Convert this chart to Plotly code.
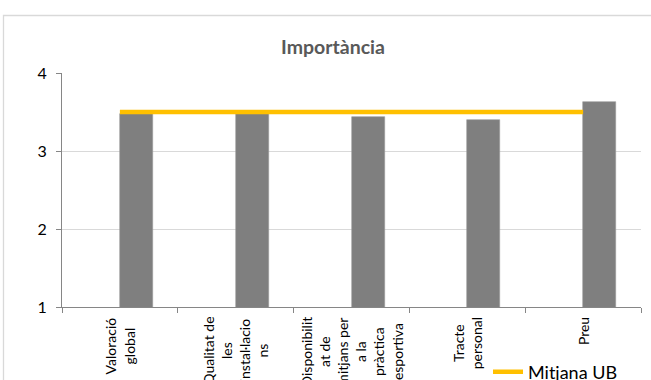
import plotly.graph_objects as go

categories = ["Valoració global", "Qualitat de les instal·lacions",
              "Disponibilitat de mitjans per a la pràctica esportiva",
              "Tracte personal", "Preu"]
tick_labels = ["Valoració<br>global", "Qualitat de<br>les<br>instal·lacio<br>ns",
               "Disponibilit<br>at de<br>mitjans per<br>a la<br>pràctica<br>esportiva",
               "Tracte<br>personal", "Preu"]
importancia = [3.48, 3.48, 3.43, 3.40, 3.63]
mitjana_ub = [3.5, 3.5, 3.5, 3.5, 3.5]

FONT = "Lato"
W, H = 651, 380
ML, MR, MT, MB = 62, 10, 73, 73

fig = go.Figure()
fig.add_trace(go.Bar(
    x=categories, y=importancia, name="Importància", showlegend=False,
    marker=dict(color="#7f7f7f", line=dict(color="#9a9a9a", width=0.6)),
    offset=0, width=0.285,
))
fig.add_trace(go.Scatter(
    x=categories, y=mitjana_ub, name="Mitjana UB", mode="lines",
    line=dict(color="#FFC000", width=4.5),
))

annotations = []
for c, lab in zip(categories, tick_labels):
    annotations.append(dict(
        x=c, xref="x", y=1, yref="y", yanchor="top", xanchor="center",
        yshift=-8, text=lab, textangle=-90, align="center", showarrow=False,
        font=dict(family=FONT, size=14, color="#000000"),
    ))

pw = W - ML - MR
ph = H - MT - MB
def px_to_paper_x(px):
    return (px - ML) / pw
def px_to_paper_y(py):
    return (H - MB - py) / ph

shapes = [dict(type="rect", xref="paper", yref="paper",
               x0=px_to_paper_x(3.5), x1=px_to_paper_x(700),
               y0=px_to_paper_y(450), y1=px_to_paper_y(15.5),
               line=dict(color="#d9d9d9", width=1.3), fillcolor="rgba(0,0,0,0)",
               layer="below")]

fig.update_layout(
    width=W, height=H,
    margin=dict(l=ML, r=MR, t=MT, b=MB, autoexpand=False),
    paper_bgcolor="white", plot_bgcolor="white",
    title=dict(text="<b>Importància</b>", x=333 / W,
               xanchor="center", y=1 - 47 / H, yanchor="middle",
               font=dict(family=FONT, size=19.5, color="#595959")),
    font=dict(family=FONT, size=14, color="#000000"),
    bargap=0,
    showlegend=True,
    legend=dict(x=px_to_paper_x(488), xanchor="left", y=px_to_paper_y(372),
                yanchor="middle", font=dict(family=FONT, size=18, color="#000000"),
                bgcolor="rgba(0,0,0,0)", itemwidth=30),
    xaxis=dict(showticklabels=False, ticks="outside", tickson="boundaries",
               ticklen=5, tickcolor="#868686", showline=True, linecolor="#868686",
               linewidth=1, showgrid=False, range=[-0.5, 4.5]),
    yaxis=dict(range=[1, 4], tickvals=[1, 2, 3, 4], ticks="outside", ticklen=5,
               tickcolor="#868686", showline=True, linecolor="#868686", linewidth=1,
               showgrid=True, gridcolor="#d9d9d9", gridwidth=1, zeroline=False,
               ticklabelstandoff=6,
               tickfont=dict(family=FONT, size=16, color="#000000")),
    annotations=annotations,
    shapes=shapes,
)

fig.write_html("out.html", config={"displayModeBar": False},
               post_script="document.body.style.margin='0';document.body.style.overflow='hidden';")
